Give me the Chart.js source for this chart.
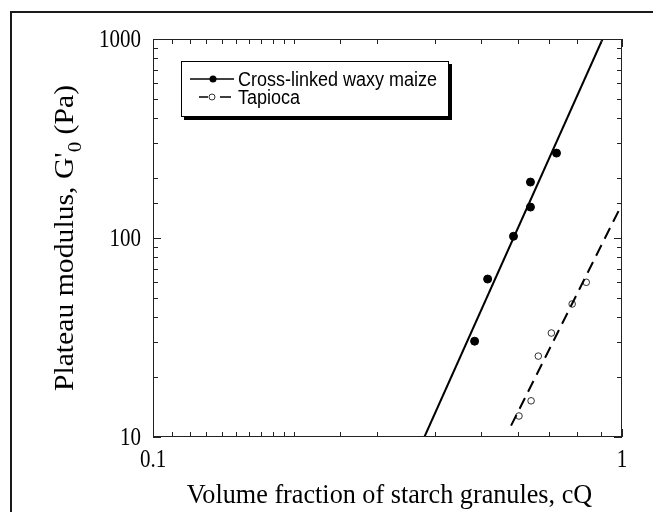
<!doctype html>
<html>
<head>
<meta charset="utf-8">
<script src="https://cdn.jsdelivr.net/npm/chart.js@4"></script>
<style>
  body { margin: 0; background: #fff; }
  #frame { position: absolute; left: 10px; top: 11px; width: 700px; height: 600px; border-left: 2px solid #1a1a1a; border-top: 2px solid #1a1a1a; }
  #wrap { position: absolute; left: 0; top: 0; width: 653px; height: 512px; }
</style>
</head>
<body>
<div id="frame"></div>
<div id="wrap"><canvas id="c" width="653" height="512"></canvas></div>
<script>
// данные (лог-лог оси)
const waxyX = [0.485, 0.517, 0.587, 0.638, 0.638, 0.725];
const waxyY = [30.3, 62.2, 102, 143, 191, 267];
const tapiocaX = [0.603, 0.640, 0.663, 0.707, 0.783, 0.839];
const tapiocaY = [12.75, 15.2, 25.5, 33.3, 46.6, 59.9];
// линии аппроксимации (концы)
const waxyFitX = [0.379, 0.909];
const waxyFitY = [10, 1000];
const tapiocaFitX = [0.580, 1.0];
const tapiocaFitY = [11.4, 148];
const xTickLabels = [0.1, 1];
const yTickLabels = [10, 100, 1000];
const seriesNames = ['Cross-linked waxy maize', 'Tapioca'];
const xTitle = 'Volume fraction of starch granules, cQ';

const pts = (xs, ys) => xs.map((x, i) => ({ x, y: ys[i] }));
const isDecade = (v, list) => list.some(t => Math.abs(t - v) / t < 1e-6);
const SERIF = '"Liberation Serif", "Times New Roman", serif';

// текст в оригинале вытянут по вертикали — рисуем со сжатием по x
function text(ctx, s, x, y, font, sx, align, base) {
  ctx.save();
  ctx.translate(x, y);
  ctx.scale(sx, 1);
  ctx.font = font;
  ctx.textAlign = align;
  ctx.textBaseline = base;
  ctx.fillStyle = '#000';
  ctx.fillText(s, 0, 0);
  ctx.restore();
}

// рамка, засечки внутрь, подписи, легенда с тенью
const decor = {
  id: 'decor',
  afterDatasetsDraw(chart) {
    const { ctx, chartArea: a, scales } = chart;
    ctx.save();
    ctx.strokeStyle = '#222';
    ctx.lineWidth = 1;
    ctx.strokeRect(a.left + 0.5, a.top + 0.5, a.right - a.left - 1, a.bottom - a.top - 1);
    ctx.beginPath();
    for (const t of scales.x.ticks) {
      const px = Math.round(scales.x.getPixelForValue(t.value)) + 0.5;
      const len = isDecade(t.value, xTickLabels) ? 8 : 5;
      ctx.moveTo(px, a.bottom); ctx.lineTo(px, a.bottom - len);
      ctx.moveTo(px, a.top); ctx.lineTo(px, a.top + len);
    }
    for (const t of scales.y.ticks) {
      const py = Math.round(scales.y.getPixelForValue(t.value)) + 0.5;
      const len = isDecade(t.value, yTickLabels) ? 8 : 5;
      ctx.moveTo(a.left, py); ctx.lineTo(a.left + len, py);
      ctx.moveTo(a.right, py); ctx.lineTo(a.right - len, py);
    }
    ctx.stroke();
    ctx.restore();

    // подписи делений
    const tf = '25px ' + SERIF;
    for (const v of xTickLabels) {
      text(ctx, String(v), scales.x.getPixelForValue(v), a.bottom + 11, tf, 0.84, 'center', 'top');
    }
    for (const v of yTickLabels) {
      text(ctx, String(v), a.left - 12, scales.y.getPixelForValue(v) + 1, tf, 0.84, 'right', 'middle');
    }
    // подпись оси X
    text(ctx, xTitle, (a.left + a.right) / 2 + 2, 496, '27px ' + SERIF, 0.97, 'center', 'middle');

    // подпись оси Y: Plateau modulus, G'0 (Pa)
    ctx.save();
    ctx.fillStyle = '#000';
    ctx.translate(66, (a.top + a.bottom) / 2);
    ctx.rotate(-Math.PI / 2);
    ctx.scale(1.1, 1);
    const big = '27px ' + SERIF;
    const small = '19px ' + SERIF;
    ctx.textBaseline = 'middle';
    ctx.font = big;
    const s1 = "Plateau modulus, G'", s3 = ' (Pa)';
    const w1 = ctx.measureText(s1).width, w3 = ctx.measureText(s3).width;
    ctx.font = small;
    const w2 = ctx.measureText('0').width;
    const x0 = -(w1 + w2 + w3) / 2;
    ctx.font = big; ctx.fillText(s1, x0, 0);
    ctx.font = small; ctx.fillText('0', x0 + w1, 10);
    ctx.font = big; ctx.fillText(s3, x0 + w1 + w2, 0);
    ctx.restore();

    // легенда
    ctx.save();
    const bx = 181, by = 61, bw = 268, bh = 56;
    ctx.fillStyle = '#000';
    ctx.fillRect(bx + 3, by + 3, bw, bh);
    ctx.fillStyle = '#fff';
    ctx.fillRect(bx, by, bw, bh);
    ctx.strokeStyle = '#000';
    ctx.lineWidth = 1;
    ctx.strokeRect(bx + 0.5, by + 0.5, bw - 1, bh - 1);
    const r1 = 79, r2 = 97;
    ctx.lineWidth = 1.5;
    ctx.beginPath(); ctx.moveTo(190, r1); ctx.lineTo(234, r1); ctx.stroke();
    ctx.beginPath(); ctx.arc(213, r1, 3.5, 0, Math.PI * 2); ctx.fillStyle = '#000'; ctx.fill();
    ctx.beginPath(); ctx.moveTo(199, r2); ctx.lineTo(208, r2); ctx.moveTo(220, r2); ctx.lineTo(231, r2); ctx.stroke();
    ctx.lineWidth = 0.8;
    ctx.beginPath(); ctx.arc(212, r2, 3, 0, Math.PI * 2); ctx.fillStyle = '#fff'; ctx.fill(); ctx.stroke();
    ctx.restore();
    const lf = '20px "Liberation Sans", Arial, sans-serif';
    text(ctx, seriesNames[0], 238, r1 + 1, lf, 0.9, 'left', 'middle');
    text(ctx, seriesNames[1], 238, r2 + 1, lf, 0.9, 'left', 'middle');
  }
};

new Chart(document.getElementById('c'), {
  type: 'scatter',
  data: {
    datasets: [
      { label: seriesNames[0] + ' fit', data: pts(waxyFitX, waxyFitY), showLine: true, borderColor: '#000', borderWidth: 2, pointRadius: 0 },
      { label: seriesNames[1] + ' fit', data: pts(tapiocaFitX, tapiocaFitY), showLine: true, borderColor: '#000', borderWidth: 2, borderDash: [12, 7], pointRadius: 0 },
      { label: seriesNames[0], data: pts(waxyX, waxyY), pointRadius: 4, backgroundColor: '#000', borderColor: '#000', borderWidth: 1 },
      { label: seriesNames[1], data: pts(tapiocaX, tapiocaY), pointRadius: 3.3, backgroundColor: '#fff', borderColor: '#000', borderWidth: 0.8 },
    ]
  },
  options: {
    responsive: false,
    animation: false,
    layout: { padding: { top: 39, right: 31, left: 0, bottom: 0 } },
    plugins: { legend: { display: false }, tooltip: { enabled: false } },
    scales: {
      x: {
        type: 'logarithmic', min: 0.1, max: 1,
        grid: { display: false, drawTicks: false },
        border: { display: false },
        ticks: { display: false },
        afterFit: (s) => { s.height = 75; }
      },
      y: {
        type: 'logarithmic', min: 10, max: 1000,
        grid: { display: false, drawTicks: false },
        border: { display: false },
        ticks: { display: false },
        afterFit: (s) => { s.width = 153; }
      }
    }
  },
  plugins: [decor]
});
</script>
</body>
</html>
